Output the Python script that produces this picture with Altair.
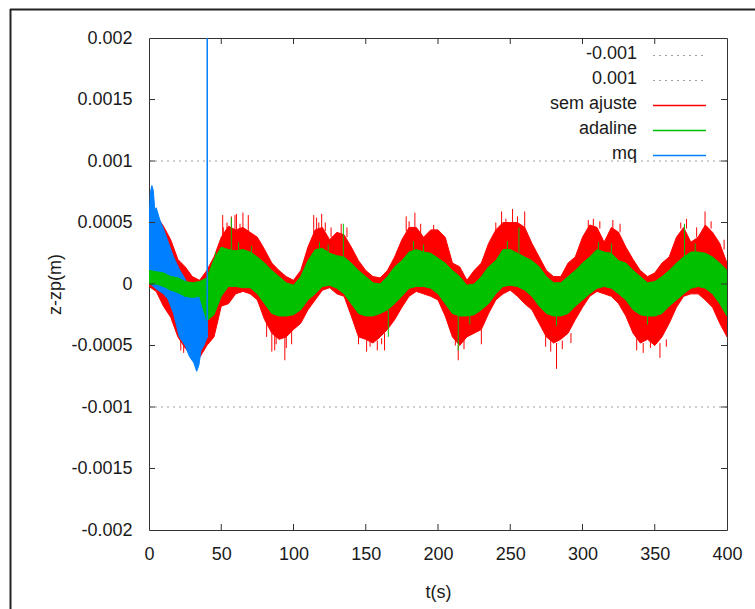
import altair as alt
import pandas as pd

S = 1e-4  # values below are read in units of 1e-4 m

T5 = list(range(0, 405, 5))
RED_HI = [5.0, 5.6, 4.7, 3.6, 2.0, 1.4, 0.6, 0.3, 1.1, 2.2, 3.8, 4.7, 4.4, 4.6, 4.2, 3.8, 2.8, 1.7, 1.1, 0.6,
          0.3, 1.1, 3.0, 4.4, 4.6, 3.6, 4.2, 4.0, 3.0, 1.9, 1.1, 0.6, 0.5, 1.1, 2.2, 3.6, 4.6, 4.6, 3.8, 4.4,
          4.4, 3.8, 1.7, 1.4, 0.3, 1.1, 1.7, 3.3, 4.4, 5.0, 5.0, 5.0, 4.6, 3.3, 2.2, 1.1, 0.6, 0.6, 1.7, 2.2,
          3.8, 4.8, 4.6, 3.4, 4.6, 4.2, 3.0, 2.0, 1.1, 0.6, 0.9, 1.7, 2.2, 3.8, 4.6, 3.4, 3.8, 4.8, 4.2, 3.3,
          1.7]
RED_LO = [-0.2, -0.6, -1.8, -2.7, -4.3, -5.2, -5.9, -6.0, -5.0, -4.3, -1.8, -1.6, -0.8, -0.6, -0.8, -1.3, -2.9, -4.0, -4.5, -4.3,
          -3.7, -3.2, -2.1, -1.3, -0.5, -0.3, -0.8, -1.0, -2.6, -4.3, -4.5, -4.8, -4.3, -3.7, -2.9, -1.9, -1.0, -0.6, -0.8, -1.0,
          -1.3, -2.6, -4.3, -5.0, -4.3, -4.0, -3.7, -2.4, -1.3, -0.8, -0.5, -1.0, -1.6, -2.1, -3.2, -4.3, -4.8, -4.5, -4.0, -2.9,
          -1.9, -1.0, -0.6, -0.8, -1.0, -1.6, -2.6, -4.0, -4.8, -4.5, -5.0, -4.3, -3.2, -1.9, -1.0, -0.8, -0.8, -1.3, -1.9, -3.2,
          -4.3]
GREEN_HI = [1.1, 1.0, 0.9, 0.6, 0.5, 0.2, 0.1, 0.2, 0.5, 2.0, 3.0, 2.8, 2.7, 2.8, 2.6, 2.2, 1.7, 1.1, 0.6, 0.1,
            -0.1, 0.6, 1.9, 2.8, 2.9, 2.5, 2.3, 2.2, 1.7, 1.1, 0.6, 0.1, 0.0, 0.6, 1.4, 1.9, 2.6, 2.8, 2.6, 2.5,
            2.1, 1.7, 1.1, 0.6, -0.1, 0.0, 0.6, 1.4, 1.9, 2.8, 2.8, 2.5, 2.2, 1.9, 1.4, 0.6, 0.1, 0.1, 0.6, 1.1,
            1.7, 2.2, 2.8, 2.6, 2.5, 1.9, 1.7, 1.1, 0.6, 0.1, 0.2, 0.6, 1.1, 1.7, 2.2, 2.6, 2.6, 2.5, 2.2, 1.7,
            1.1]
GREEN_LO = [0.0, 0.0, -0.2, -0.5, -0.7, -1.0, -1.1, -1.0, -3.0, -2.5, -1.0, -0.2, -0.2, -0.3, -0.3, -0.8, -1.6, -2.4, -2.6, -2.6,
            -2.5, -2.1, -1.3, -0.8, -0.2, -0.1, -0.35, -0.8, -1.6, -2.4, -2.6, -2.6, -2.4, -2.1, -1.6, -1.0, -0.35, -0.2, -0.2, -0.35,
            -0.8, -1.6, -2.4, -2.6, -2.6, -2.5, -2.1, -1.6, -0.8, -0.2, -0.1, -0.2, -0.5, -1.0, -1.8, -2.4, -2.6, -2.6, -2.4, -1.8,
            -1.3, -0.8, -0.35, -0.2, -0.35, -0.8, -1.3, -2.1, -2.5, -2.6, -2.6, -2.4, -1.8, -1.3, -0.8, -0.35, -0.2, -0.35, -0.8, -1.6,
            -2.6]

BLUE_T = [0, 1, 2, 3, 4, 5, 7.5, 10, 13, 17, 21, 25, 28, 31, 33, 34.5, 36, 38, 40]
BLUE_HI = [5.2, 7.5, 8.0, 7.6, 6.0, 6.2, 5.2, 4.5, 3.5, 2.2, 1.2, 0.4, -0.4, -0.7, -0.8, -0.8, -0.8, -0.8, -0.7]
BLUE_LO = [0.1, 0.0, -0.1, -0.2, -0.3, -0.4, -0.6, -0.8, -1.2, -2.4, -4.3, -5.0, -5.9, -6.4, -7.1, -6.6, -5.4, -5.0, -4.4]
BLUE_JUMP = (40.3, -4.4, 20.0)

# isolated spikes sticking out of the bands: time, start, end
RED_SPIKE_T = [22, 24, 51, 51.4, 54, 57, 59.5, 60.5, 63, 65, 68.7, 81.4, 85, 87, 88, 94, 95, 98.7,
               114, 116, 117.5, 119.5, 122, 126, 133, 137, 145, 150.6, 153, 158, 161, 163, 178, 180, 184, 188, 197,
               208, 212, 214, 218, 230, 240, 244, 247, 251.6, 255, 260, 274.5, 278, 282, 286, 292,
               304, 307.5, 312, 321, 326, 337.5, 342, 347, 353.6, 358, 368, 372, 379, 384.8, 389, 398]
RED_SPIKE_A = [-4.6, -4.8, 3.5, 3.6, 4.0, 4.0, 4.0, 4.0, 4.2, 4.2, 4.0, -3.0, -4.0, -4.2, -4.2, -4.3, -4.3, -3.8,
               4.0, 4.0, 4.2, 4.2, 4.3, 3.8, 4.0, 3.8, -4.3, -4.5, -4.6, -4.6, -4.4, -4.0, 4.3, 4.5, 4.5, 4.0, 4.2,
               -2.8, -4.0, -5.0, -4.5, -3.7, 4.2, 4.8, 4.8, 4.8, 5.0, 4.4, -4.2, -4.6, -4.8, -4.6, -4.0,
               4.6, 4.7, 4.5, 4.5, 4.2, -4.4, -4.8, -4.6, -4.8, -4.5, 4.5, 4.5, 3.8, 4.7, 4.5, 2.8]
RED_SPIKE_B = [-5.4, -5.6, 5.6, 4.6, 5.0, 5.5, 5.6, 5.7, 4.9, 5.8, 5.6, -4.3, -5.5, -5.4, -4.9, -6.2, -5.2, -4.9,
               5.6, 5.4, 5.0, 5.7, 5.0, 4.6, 4.9, 4.6, -4.9, -5.5, -5.1, -5.4, -4.9, -5.4, 5.5, 5.1, 5.8, 4.9, 4.8,
               -3.6, -5.0, -6.2, -5.3, -4.9, 5.0, 5.9, 5.3, 6.1, 5.5, 5.9, -5.1, -5.5, -6.9, -5.3, -4.8,
               5.2, 5.3, 5.1, 5.2, 4.9, -5.4, -5.6, -5.2, -6.0, -5.1, 5.0, 5.3, 4.6, 5.9, 5.1, 3.6]
GREEN_SPIKE_T = [46, 57, 62, 71, 118, 124, 134.5, 165.6, 183, 190, 214, 222, 248, 256, 282, 311, 320, 345, 370.6, 378]
GREEN_SPIKE_A = [1.8, 2.8, 2.7, 2.5, 2.8, 2.5, 2.3, -2.1, 2.8, 2.6, -2.6, -2.6, 2.8, 2.5, -2.6, 2.8, 2.5, -2.6, 2.2, 2.6]
GREEN_SPIKE_B = [2.6, 5.4, 3.4, 3.1, 3.4, 3.2, 4.9, -4.3, 3.5, 3.2, -5.4, -3.3, 3.5, 4.6, -3.4, 3.4, 3.3, -3.3, 4.9, 3.3]

REF_LINES = [-0.001, 0.001]
Y_TICKS = [-0.002, -0.0015, -0.001, -0.0005, 0, 0.0005, 0.001, 0.0015, 0.002]
X_TICKS = [0, 50, 100, 150, 200, 250, 300, 350, 400]
LEGEND_LABELS = ["-0.001", "0.001", "sem ajuste", "adaline", "mq"]
LEGEND_COLORS = ["#a0a0a0", "#a0a0a0", "#ff0000", "#00c000", "#0080ff"]

RED, GREEN, BLUE = "#ff0000", "#00c000", "#0080ff"
W, H = 578, 492
FONT = "Liberation Sans"

xs = alt.Scale(domain=[0, 400])
ys = alt.Scale(domain=[-0.002, 0.002])


def band(t, hi, lo):
    return pd.DataFrame({"t": t, "hi": [v * S for v in hi], "lo": [v * S for v in lo]})


def spikes(t, a, b):
    return pd.DataFrame({"t": t, "a": [v * S for v in a], "b": [v * S for v in b]})


X = alt.X("t:Q", scale=xs, title="t(s)",
          axis=alt.Axis(values=X_TICKS, ticks=False, domain=False, grid=False, tickSize=0,
                        labelPadding=15, titlePadding=20, labelFlush=False))
Y = alt.Y("hi:Q", scale=ys, title="z-zp(m)",
          axis=alt.Axis(values=Y_TICKS, ticks=False, domain=False, grid=False, tickSize=0,
                        labelPadding=17, titlePadding=6, labelExpr="toString(datum.value)"))


def area(df, color):
    return alt.Chart(df).mark_area(color=color, stroke=color, strokeWidth=1, opacity=1, clip=True).encode(
        x=alt.X("t:Q", scale=xs), y=alt.Y("hi:Q", scale=ys), y2="lo:Q")


def spike(df, color):
    return alt.Chart(df).mark_rule(color=color, strokeWidth=1, clip=True).encode(
        x=alt.X("t:Q", scale=xs), y=alt.Y("a:Q", scale=ys), y2="b:Q")


red_df = band(T5, RED_HI, RED_LO)
green_df = band(T5, GREEN_HI, GREEN_LO)
blue_df = band(BLUE_T, BLUE_HI, BLUE_LO)

# base layer carrying the axes
base = alt.Chart(red_df).mark_area(color=RED, stroke=RED, strokeWidth=1, clip=True).encode(
    x=X, y=Y, y2="lo:Q")

ref = alt.Chart(pd.DataFrame({"v": REF_LINES})).mark_rule(
    color="#a0a0a0", strokeWidth=1, strokeDash=[2, 4]).encode(y=alt.Y("v:Q", scale=ys))

blue_jump = alt.Chart(pd.DataFrame({"t": [BLUE_JUMP[0]], "a": [BLUE_JUMP[1] * S], "b": [BLUE_JUMP[2] * S]})
                      ).mark_rule(color=BLUE, strokeWidth=1.5, clip=True).encode(
    x=alt.X("t:Q", scale=xs), y=alt.Y("a:Q", scale=ys), y2="b:Q")

# inward ticks (gnuplot style) on all four sides
yt = pd.DataFrame({"v": [v for v in Y_TICKS if abs(v) < 0.002]})
xt = pd.DataFrame({"t": [v for v in X_TICKS if 0 < v < 400]})
tick_col = "#333333"
ytl = alt.Chart(yt).mark_rule(color=tick_col, strokeWidth=1).encode(
    y=alt.Y("v:Q", scale=ys), x=alt.value(0), x2=alt.value(6))
ytr = alt.Chart(yt).mark_rule(color=tick_col, strokeWidth=1).encode(
    y=alt.Y("v:Q", scale=ys), x=alt.value(W - 6), x2=alt.value(W))
xtb = alt.Chart(xt).mark_rule(color=tick_col, strokeWidth=1).encode(
    x=alt.X("t:Q", scale=xs), y=alt.value(H - 6), y2=alt.value(H))
xtt = alt.Chart(xt).mark_rule(color=tick_col, strokeWidth=1).encode(
    x=alt.X("t:Q", scale=xs), y=alt.value(0), y2=alt.value(6))

# legend (gnuplot style: text right-aligned, sample to the right)
leg = pd.DataFrame({"label": LEGEND_LABELS, "color": LEGEND_COLORS, "i": list(range(len(LEGEND_LABELS)))})
leg_text = alt.Chart(leg).mark_text(align="right", baseline="middle", font=FONT, fontSize=18,
                                    color="#1a1a1a").transform_calculate(py="16 + 25*datum.i").encode(
    text="label:N", x=alt.value(488), y=alt.Y("py:Q", scale=None))
leg_dot = alt.Chart(leg).transform_filter("datum.i < 2").transform_calculate(
    py="17.5 + 25*datum.i").mark_rule(strokeWidth=1, strokeDash=[2, 4], color="#a0a0a0").encode(
    x=alt.value(504), x2=alt.value(557), y=alt.Y("py:Q", scale=None))
leg_line = alt.Chart(leg).transform_filter("datum.i >= 2").transform_calculate(
    py="17.5 + 25*datum.i").mark_rule(strokeWidth=1.5).encode(
    x=alt.value(504), x2=alt.value(557), y=alt.Y("py:Q", scale=None),
    color=alt.Color("color:N", scale=None))

# outer frame of the original figure
frame_top = alt.Chart(pd.DataFrame({"k": [0]})).mark_rule(color="#222222", strokeWidth=2).encode(
    x=alt.value(-139), x2=alt.value(610), y=alt.value(-28.5))
frame_left = alt.Chart(pd.DataFrame({"k": [0]})).mark_rule(color="#222222", strokeWidth=2).encode(
    x=alt.value(-138.5), y=alt.value(-29), y2=alt.value(575))

chart = alt.layer(
    base,
    ref,
    spike(spikes(RED_SPIKE_T, RED_SPIKE_A, RED_SPIKE_B), RED),
    area(blue_df, BLUE),
    area(green_df, GREEN),
    spike(spikes(GREEN_SPIKE_T, GREEN_SPIKE_A, GREEN_SPIKE_B), GREEN),
    blue_jump,
    ytl, ytr, xtb, xtt,
    leg_text, leg_dot, leg_line,
    frame_top, frame_left,
).properties(
    width=W, height=H,
    autosize=alt.AutoSizeParams(type="none"),
    padding={"left": 149, "top": 38, "right": 28, "bottom": 79},
    background="white",
).configure_view(
    stroke="#333333", strokeWidth=1
).configure_axis(
    labelFont=FONT, labelFontSize=18, labelColor="#1a1a1a",
    titleFont=FONT, titleFontSize=18, titleFontWeight="normal", titleColor="#1a1a1a",
)

chart.save("out.html", embed_options={"renderer": "svg", "actions": False})
